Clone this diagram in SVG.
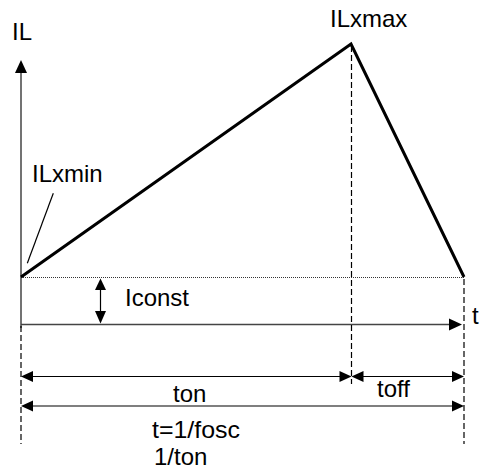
<svg xmlns="http://www.w3.org/2000/svg" width="481" height="470" viewBox="0 0 481 470">
<style>
text{font-family:"Liberation Sans",Arial,sans-serif;font-size:24px;fill:#000}
.axis{stroke:#444;stroke-width:1.5;fill:none}
.dash{stroke:#000;stroke-width:1.2;stroke-dasharray:6,3;fill:none}
.dot{stroke:#333;stroke-width:1;stroke-dasharray:1,1;fill:none}
.wave{stroke:#000;stroke-width:3;fill:none;stroke-linejoin:miter}
.thin{stroke:#000;stroke-width:1.2;fill:none}
.head{fill:#000;stroke:none}
</style>
<rect width="481" height="470" fill="#fff"/>
<g id="connectors">
<line class="axis" x1="21" y1="72" x2="21" y2="328"/>
<polygon class="head" points="21,60 15,73 27,73"/>
<line class="axis" x1="21" y1="324.5" x2="451" y2="324.5"/>
<polygon class="head" points="462,324.5 449,318.5 449,330.5"/>
<line class="dash" x1="21" y1="326" x2="21" y2="444"/>
<line class="dash" x1="351.5" y1="46" x2="351.5" y2="384"/>
<line class="dash" x1="464" y1="279" x2="464" y2="444"/>
<line class="dot" x1="21" y1="277.5" x2="464" y2="277.5"/>
<polyline class="wave" points="21,277 351,44 464,277"/>
<line class="thin" x1="53.3" y1="193.3" x2="27.3" y2="263.3"/>
<line class="thin" x1="100.5" y1="288" x2="100.5" y2="313"/>
<polygon class="head" points="100.5,278.5 95,290 106,290"/>
<polygon class="head" points="100.5,323.5 95,311 106,311"/>
<line class="thin" x1="31" y1="376.5" x2="341" y2="376.5"/>
<polygon class="head" points="21,376.5 33,371 33,382"/>
<polygon class="head" points="351.5,376.5 339.5,371 339.5,382"/>
<line class="thin" x1="362" y1="376.5" x2="454" y2="376.5"/>
<polygon class="head" points="351.5,376.5 363.5,371 363.5,382"/>
<polygon class="head" points="464,376.5 452,371 452,382"/>
<line class="thin" x1="31" y1="406" x2="454" y2="406"/>
<polygon class="head" points="21,406 33,400.5 33,411.5"/>
<polygon class="head" points="464,406 452,400.5 452,411.5"/>
</g>
<g id="label-IL"><text x="12" y="40">IL</text></g>
<g id="label-ILxmax"><text x="330" y="26.7">ILxmax</text></g>
<g id="label-ILxmin"><text x="32" y="182">ILxmin</text></g>
<g id="label-Iconst"><text x="125" y="306">Iconst</text></g>
<g id="label-t"><text x="472" y="324">t</text></g>
<g id="label-ton"><text x="173" y="401.7">ton</text></g>
<g id="label-toff"><text x="377" y="396.7">toff</text></g>
<g id="label-period"><text x="152" y="438" textLength="88" lengthAdjust="spacingAndGlyphs">t=1/fosc</text><text x="154" y="465">1/ton</text></g>
</svg>
